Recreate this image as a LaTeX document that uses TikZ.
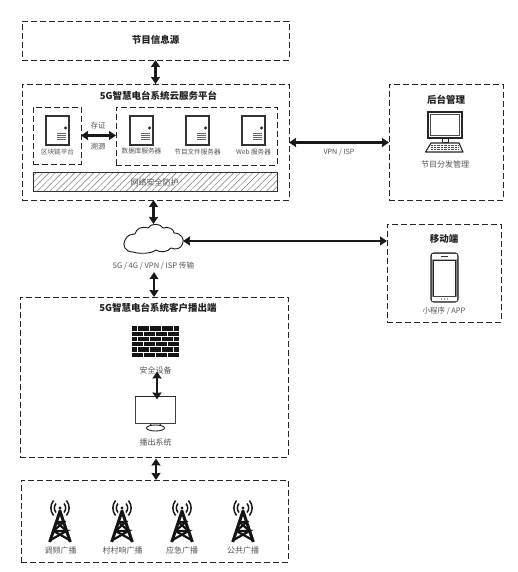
\documentclass[tikz,border=0pt]{standalone}
\usepackage{fontspec}
\setmainfont{Noto Sans CJK SC}
\usetikzlibrary{arrows.meta,patterns.meta}
\definecolor{lab}{HTML}{555555}
\definecolor{ttl}{HTML}{222222}
\tikzset{
  x=1pt,y=-1pt,
  dbox/.style={draw=black!85,line width=.85pt,dash pattern=on 6pt off 3pt,inner sep=0pt,outer sep=0pt},
  ghost/.style={inner sep=0pt,outer sep=0pt},
  ttlt/.style={font=\fontsize{9.5}{10}\bfseries,text=ttl,inner sep=0pt},
  labt/.style={font=\fontsize{8}{9}\selectfont,text=lab,inner sep=0pt},
  smallt/.style={font=\fontsize{6.6}{8}\selectfont,text=lab,inner sep=0pt},
  dbl/.style={line width=2.8pt,black!90,{Stealth[length=7pt,width=9pt,inset=0.5pt]}-{Stealth[length=7pt,width=9pt,inset=0.5pt]}},
  serverpic/.pic={
    \draw[line width=1.1pt,black!80,fill=white] (-11.5,-14.5) rectangle (11.5,14.5);
    \fill[black!85] (8,-2.5) circle (1.6);
    \foreach \yy in {3,5,7,9}{\draw[line width=.6pt,black!60] (-1,\yy) -- (8.5,\yy);}
  },
  towerpic/.pic={
    \fill[black!90] (0,-11) circle (1.7);
    \draw[line width=1.5pt,black!90] (-4,-15.5) .. controls (-6.2,-12.5) and (-6.2,-9.5) .. (-4,-6.5);
    \draw[line width=1.5pt,black!90] (4,-15.5) .. controls (6.2,-12.5) and (6.2,-9.5) .. (4,-6.5);
    \draw[line width=1.5pt,black!90] (-6.5,-18.5) .. controls (-10,-14) and (-10,-8) .. (-6.5,-3.5);
    \draw[line width=1.5pt,black!90] (6.5,-18.5) .. controls (10,-14) and (10,-8) .. (6.5,-3.5);
    \draw[line width=3pt,black!92,line join=round] (-10.3,23) -- (0,-8) -- (10.3,23);
    \draw[line width=2.2pt,black!92] (-6.5,12) -- (6.5,12) -- (-9.5,21);
    \draw[line width=2.2pt,black!92] (-6.5,12) -- (9.5,21);
    \draw[line width=2.2pt,black!92] (-3.6,3) -- (3.6,3) -- (-6.5,12);
    \draw[line width=2.2pt,black!92] (-3.6,3) -- (6.5,12);
  }
}
\begin{document}
\begin{tikzpicture}
\useasboundingbox (0,0) rectangle (517,572);
\fill[white] (0,0) rectangle (517,572);

% main boxes
\node[dbox,minimum width=267pt,minimum height=39pt] (src) at (155.5,40.5) {};
\node[ttlt] at (155.5,40) {节目信息源};
\node[dbox,minimum width=267pt,minimum height=116pt] (plat) at (155.5,142) {};
\node[ttlt] at (158.5,96) {5G智慧电台系统云服务平台};
\node[dbox,minimum width=48pt,minimum height=57pt] (chain) at (57,135.5) {};
\node[dbox,minimum width=161pt,minimum height=58pt] (srv) at (196.5,136) {};
\node[draw=black!80,line width=.9pt,minimum width=244pt,minimum height=19pt,ghost,
  pattern={Lines[angle=45,distance=4.5pt,line width=.45pt]},pattern color=black!55] (hatch) at (155,181.5) {};
\node[labt] at (154.5,182) {网络安全防护};

% servers
\pic at (57.5,130.5) {serverpic};
\pic at (141.5,130.5) {serverpic};
\pic at (197.5,130.5) {serverpic};
\pic at (253.5,130.5) {serverpic};
\node[smallt] at (57.5,151.5) {区块链平台};
\node[smallt] at (141.5,151.5) {数据库服务器};
\node[smallt] at (197.5,151.5) {节目文件服务器};
\node[smallt] at (253.5,151.5) {Web 服务器};
\node[font=\fontsize{7.5}{9}\selectfont,text=lab,inner sep=0pt] at (98,126) {存证};
\node[font=\fontsize{7.5}{9}\selectfont,text=lab,inner sep=0pt] at (98,147) {溯源};

% back office
\node[dbox,minimum width=114pt,minimum height=116pt] (back) at (446,142) {};
\node[ttlt] at (446,100) {后台管理};
\draw[line width=1.3pt,black!85,fill=white] (428,112) rectangle (462,138);
\draw[line width=1pt,black!70] (430.5,114.5) rectangle (459.5,135.5);
\draw[line width=1pt,black!85] (442,138) rectangle (448,143);
\draw[line width=1.1pt,black!85,fill=white,line join=round] (431,143) -- (459,143) -- (463,152) -- (425.5,152) -- cycle;
\foreach \yy in {145.5,147.5,149.5}{\draw[line width=1.1pt,black!70,dash pattern=on .8pt off .6pt] (431,\yy) -- (459,\yy);}
\node[labt] at (445,164) {节目分发管理};
\node[font=\fontsize{7.2}{8}\selectfont,text=lab,inner sep=0pt] at (339,152.5) {VPN / ISP};

% mobile
\node[dbox,minimum width=114pt,minimum height=98pt] (mob) at (444,273) {};
\node[ttlt] at (444,239) {移动端};
\draw[line width=1.2pt,black!85,fill=black!45,rounded corners=3pt] (431,253) rectangle (458,302);
\draw[line width=.9pt,black!85,fill=white] (433.5,260) rectangle (455.5,296);
\fill[white] (432,254) rectangle (457,259.3) (432,296.8) rectangle (457,301);
\draw[line width=1pt,black!80] (441,256.8) -- (448,256.8);
\foreach \xx in {441.5,444.5,447.5}{\fill[black!80] (\xx,299) circle (.6);}
\node[font=\fontsize{7.5}{9}\selectfont,text=lab,inner sep=0pt] at (444,311) {小程序 / APP};

% cloud
\node[ghost,minimum width=59pt,minimum height=29pt] (cloudn) at (153.5,238.5) {};
\draw[line width=.9pt,black!90,fill=white,line join=round] (133,252)
  .. controls (125,252) and (122,245) .. (125,240)
  .. controls (127,235) and (132,234) .. (135,234)
  .. controls (136,228) and (143,226) .. (148,228)
  .. controls (151,223) and (160,223) .. (163,228)
  .. controls (168,226) and (174,229) .. (174,233)
  .. controls (181,233) and (185,239) .. (182.5,244)
  .. controls (181,249) and (175,250) .. (171,248)
  .. controls (168,252) and (160,253) .. (156,250)
  .. controls (151,254) and (139,254) .. (133,252) -- cycle;
\node[font=\fontsize{7.6}{9}\selectfont,text=lab,inner sep=0pt] (cloudlab) at (153.5,266) {5G / 4G / VPN / ISP 传输};

% client
\node[dbox,minimum width=268pt,minimum height=160pt] (client) at (154,377) {};
\node[ttlt] at (158,308) {5G智慧电台系统客户播出端};
% firewall
\fill[black!92] (132,326) rectangle (179,357);
\foreach \yy in {331.2,336.4,341.6,346.8,352}{\draw[white,line width=.7pt] (132,\yy) -- (179,\yy);}
\foreach \yy/\ss in {326/0,331.2/1,336.4/0,341.6/1,346.8/0,352/1}{
  \foreach \xx in {0,1,2,3}{
    \draw[white,line width=.7pt] ({132+\xx*12+\ss*6+5},\yy) -- ++(0,5.2);
  }
}
\node[ghost,minimum width=47pt,minimum height=48pt] (fw) at (155.5,349) {};
\node[labt] at (155.5,370) {安全设备};
% monitor
\node[draw=black!75,line width=1.6pt,fill=white,minimum width=40pt,minimum height=27pt,ghost] (mon) at (155.5,410) {};
\draw[line width=1.5pt,black!85] (135,396.5) -- (176,396.5);
\draw[line width=.9pt,black!85] (151,424) -- (150,426) (160,424) -- (161,426);
\draw[line width=.9pt,black!85,fill=white] (155.5,428) ellipse (9 and 3);
\node[labt] at (155.5,442) {播出系统};

% broadcast
\node[dbox,minimum width=267pt,minimum height=82pt] (bc) at (154.5,521) {};
\pic at (60,519) {towerpic};
\pic at (122,519) {towerpic};
\pic at (182,519) {towerpic};
\pic at (243,519) {towerpic};
\node[labt] at (60.5,550.5) {调频广播};
\node[labt] at (122.5,550.5) {村村响广播};
\node[labt] at (182,550.5) {应急广播};
\node[labt] at (243,550.5) {公共广播};

% connectors
\draw[dbl] (src.south -| 155.5,0) -- (plat.north -| 155.5,0);
\draw[dbl] (chain.east |- 0,135.5) -- (srv.west |- 0,135.5);
\draw[dbl] (plat.east |- 0,142.5) -- (back.west |- 0,142.5);
\draw[dbl] (plat.south -| cloudn.north) -- (cloudn.north);
\draw[dbl] (cloudn.east |- 0,241) -- (mob.west |- 0,241);
\draw[dbl] (cloudlab.south -| 154,0) ++(0,2) -- (client.north -| 154,0);
\draw[dbl] (fw.south -| 157,0) ++(0,-1.5) -- ([xshift=1.5pt,yshift=-3pt]mon.north);
\draw[dbl] (client.south -| 156,0) ++(0,1.5) -- (bc.north -| 156,0);
\end{tikzpicture}
\end{document}
